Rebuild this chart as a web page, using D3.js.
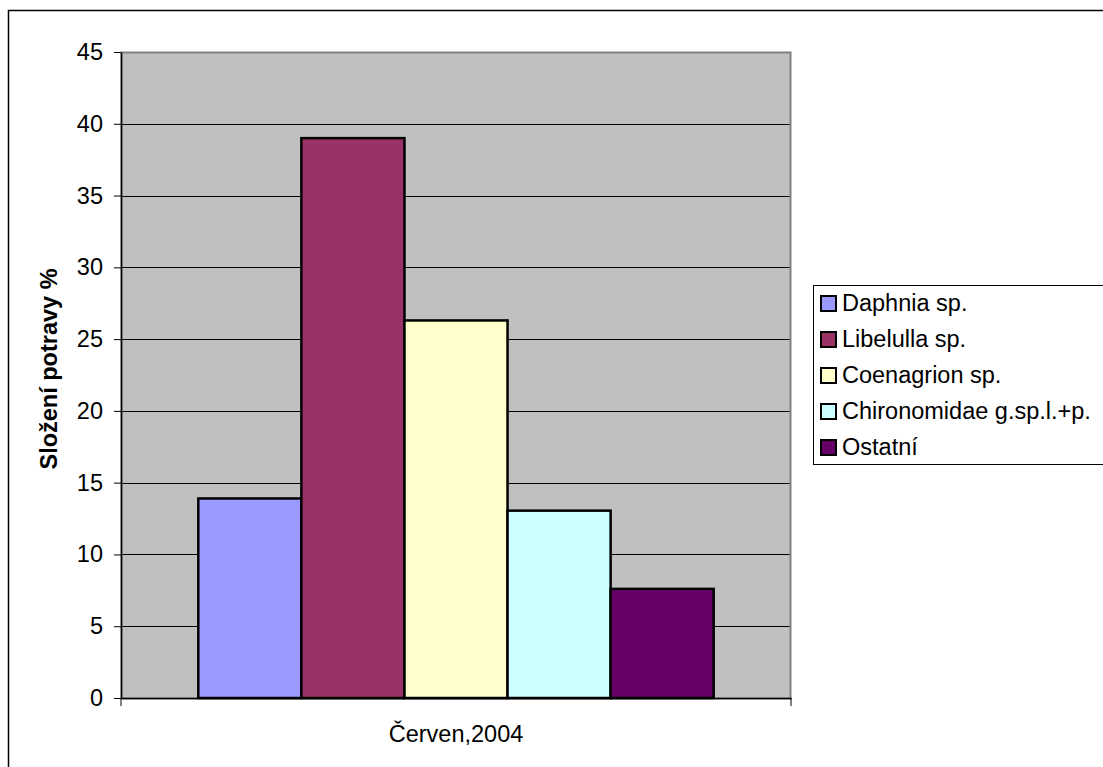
<!DOCTYPE html>
<html>
<head>
<meta charset="utf-8">
<script src="https://cdn.jsdelivr.net/npm/d3@7"></script>
<style>
  html, body { margin: 0; padding: 0; background: #fff; }
  svg { display: block; font-family: "Liberation Sans", Arial, sans-serif; }
</style>
</head>
<body>
<svg id="chart" width="1103" height="767"></svg>
<script>
// Diet composition, June 2004
const category = "Červen,2004";
const seriesNames = ["Daphnia sp.", "Libelulla sp.", "Coenagrion sp.", "Chironomidae g.sp.l.+p.", "Ostatní"];
const seriesValues = [13.9, 39.0, 26.3, 13.05, 7.6];
const seriesColors = ["#9999FF", "#993366", "#FFFFCC", "#CCFFFF", "#660066"];
const yTicks = [0, 5, 10, 15, 20, 25, 30, 35, 40, 45];
const yTitle = "Složení potravy %";

const FONT = 23.5;
const svg = d3.select("#chart");

// outer chart border
svg.append("rect")
  .attr("x", 8.5).attr("y", 10.5)
  .attr("width", 1120).attr("height", 800)
  .attr("fill", "#fff").attr("stroke", "#000").attr("stroke-width", 1.5);

const plot = { left: 121, top: 52, right: 791, bottom: 698 };

const y = d3.scaleLinear().domain([0, 45]).range([plot.bottom, plot.top]);
const xCat = d3.scaleBand().domain([category]).range([plot.left, plot.right]);
// bars fill the group, with a 150% gap width split on both sides
const inner = d3.scaleBand().domain(seriesNames)
  .range([0, xCat.bandwidth()])
  .paddingOuter(0.75)
  .paddingInner(0);

// plot background
svg.append("rect")
  .attr("x", plot.left).attr("y", plot.top)
  .attr("width", plot.right - plot.left).attr("height", plot.bottom - plot.top)
  .attr("fill", "#C0C0C0");

// gridlines
svg.append("g")
  .selectAll("line")
  .data(yTicks.filter(t => t > 0))
  .join("line")
  .attr("x1", plot.left).attr("x2", plot.right)
  .attr("y1", d => Math.round(y(d)) + 0.5).attr("y2", d => Math.round(y(d)) + 0.5)
  .attr("stroke", "#000").attr("stroke-width", 1);

// plot frame (gray)
svg.append("rect")
  .attr("x", plot.left + 0.5).attr("y", plot.top + 0.5)
  .attr("width", plot.right - plot.left - 1).attr("height", plot.bottom - plot.top)
  .attr("fill", "none").attr("stroke", "#808080").attr("stroke-width", 2);

// bars
svg.append("g")
  .selectAll("rect")
  .data(seriesNames.map((n, i) => ({ name: n, value: seriesValues[i], color: seriesColors[i] })))
  .join("rect")
  .attr("x", d => xCat(category) + inner(d.name))
  .attr("y", d => y(d.value))
  .attr("width", inner.bandwidth())
  .attr("height", d => plot.bottom - y(d.value))
  .attr("fill", d => d.color)
  .attr("stroke", "#000").attr("stroke-width", 2.5);

// y axis
const yAxis = d3.axisLeft(y).tickValues(yTicks).tickSize(7).tickSizeOuter(0).tickPadding(11);
const gy = svg.append("g").attr("transform", `translate(${plot.left},0)`).call(yAxis);
gy.attr("font-size", FONT).attr("font-family", "Liberation Sans, Arial, sans-serif");
gy.select(".domain").attr("stroke", "#000").attr("stroke-width", 1.5);
gy.selectAll(".tick line").attr("stroke", "#000");
gy.selectAll(".tick text").attr("fill", "#000");

// x axis
const xAxis = d3.axisBottom(xCat).tickSize(0).tickPadding(27);
const gx = svg.append("g").attr("transform", `translate(0,${plot.bottom})`).call(xAxis);
gx.attr("font-size", FONT).attr("font-family", "Liberation Sans, Arial, sans-serif");
gx.select(".domain").attr("stroke", "#000").attr("stroke-width", 1.5);
gx.selectAll(".tick text").attr("fill", "#000");
// category boundary ticks
gx.selectAll(".edge")
  .data(xCat.range())
  .join("line")
  .attr("class", "edge")
  .attr("x1", d => d).attr("x2", d => d)
  .attr("y1", 0).attr("y2", 8)
  .attr("stroke", "#000");

// y axis title
svg.append("text")
  .attr("transform", `translate(57,369) rotate(-90)`)
  .attr("text-anchor", "middle")
  .attr("font-size", FONT).attr("font-weight", "bold")
  .text(yTitle);

// legend
const legend = svg.append("g");
legend.append("rect")
  .attr("x", 813.5).attr("y", 285.5).attr("width", 320).attr("height", 179)
  .attr("fill", "#fff").attr("stroke", "#000").attr("stroke-width", 1);
const items = legend.selectAll("g.item")
  .data(seriesNames)
  .join("g")
  .attr("class", "item")
  .attr("transform", (d, i) => `translate(821,${303 + i * 36})`);
items.append("rect")
  .attr("x", 0).attr("y", -7).attr("width", 15).attr("height", 15)
  .attr("fill", (d, i) => seriesColors[i])
  .attr("stroke", "#000").attr("stroke-width", 2);
items.append("text")
  .attr("x", 21).attr("y", 0).attr("dy", "0.35em")
  .attr("font-size", FONT)
  .text(d => d);
</script>
</body>
</html>
